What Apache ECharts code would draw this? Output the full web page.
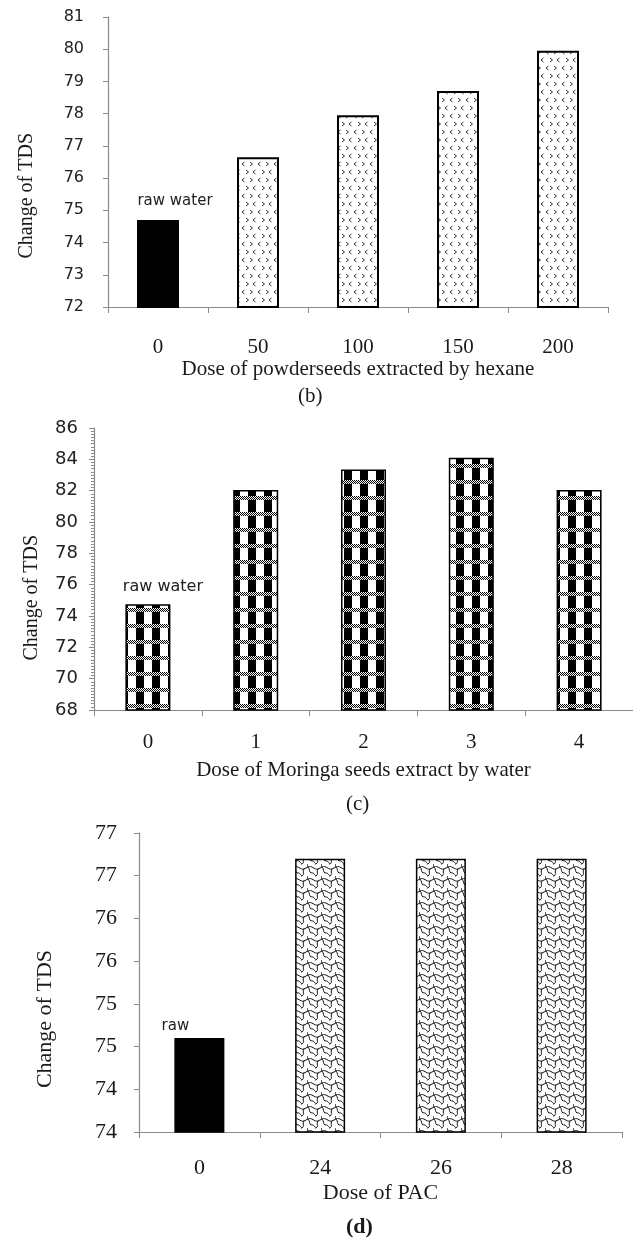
<!DOCTYPE html>
<html>
<head>
<meta charset="utf-8">
<script src="https://cdn.jsdelivr.net/npm/echarts@6/dist/echarts.min.js"></script>
<style>
  html, body { margin: 0; padding: 0; background: #fff; }
  #chart { width: 633px; height: 1240px; }
</style>
</head>
<body>
<div id="chart"></div>
<script>
// data
const catsB = ['0', '50', '100', '150', '200'];
const valsB = [74.7, 76.65, 77.95, 78.7, 79.95];

const catsC = ['0', '1', '2', '3', '4'];
const valsC = [74.75, 82.05, 83.35, 84.1, 82.05];

const catsD = ['0', '24', '26', '28'];
const valsD = [74.6, 76.7, 76.7, 76.7];
const ticksD = ['74', '74', '75', '75', '76', '76', '77', '77'];

const rawLabel = 'raw water';
const rawLabelD = 'raw';

const serif = '"Liberation Serif", "DejaVu Serif", serif';
const sans = '"DejaVu Sans", Verdana, sans-serif';
const axisGray = '#8a8a8a';
const textCol = '#1a1a1a';

// --- fill patterns drawn on little canvases ---
const makeTile = (w, h, draw) => {
    const c = document.createElement('canvas');
    c.width = w; c.height = h;
    const ctx = c.getContext('2d');
    ctx.fillStyle = '#fff';
    ctx.fillRect(0, 0, w, h);
    draw(ctx);
    return c;
};

// (b) small < > marks
const tileB = makeTile(16, 16, (ctx) => {
    ctx.strokeStyle = '#333';
    ctx.lineWidth = 1;
    const lt = (x, y) => { ctx.beginPath(); ctx.moveTo(x + 2.5, y); ctx.lineTo(x, y + 2); ctx.lineTo(x + 2.5, y + 4); ctx.stroke(); };
    const gt = (x, y) => { ctx.beginPath(); ctx.moveTo(x, y); ctx.lineTo(x + 2.5, y + 2); ctx.lineTo(x, y + 4); ctx.stroke(); };
    lt(2, 2); gt(10, 2);
    gt(6, 10); lt(13, 10);
});

// (c) black / white columns with dotted grey bands
const tileC = makeTile(16, 16, (ctx) => {
    ctx.fillStyle = '#000';
    ctx.fillRect(8, 4, 8, 12);
    for (let y = 0; y < 4; y++) {
        for (let x = 0; x < 16; x++) {
            if ((x + y) % 2 === 0) ctx.fillRect(x, y, 1, 1);
        }
    }
});

// (d) wavy scale lines
const tileD = makeTile(14, 12, (ctx) => {
    ctx.strokeStyle = '#111';
    ctx.lineWidth = 1;
    ctx.beginPath();
    ctx.moveTo(0, 3);
    ctx.bezierCurveTo(4, 1, 6, 6, 10, 5);
    ctx.lineTo(14, 3);
    ctx.moveTo(10, 5);
    ctx.bezierCurveTo(8, 8, 11, 10, 8, 12);
    ctx.moveTo(8, 0);
    ctx.lineTo(7, 0);
    ctx.moveTo(3, 9);
    ctx.bezierCurveTo(5, 8, 7, 11, 8, 12);
    ctx.moveTo(3, 9);
    ctx.bezierCurveTo(1, 8, 2, 5, 0, 3);
    ctx.moveTo(14, 3);
    ctx.bezierCurveTo(13, 1, 14, 0, 14, 0);
    ctx.stroke();
});

const pattern = (tile) => ({ image: tile, repeat: 'repeat' });

const rawItem = (v, text, fill, fontSize, offset) => ({
    value: v,
    itemStyle: { color: fill },
    label: {
        show: true, position: 'top', formatter: text,
        fontFamily: sans, fontSize: fontSize, color: '#222', offset: offset
    }
});

const dataB = valsB.map((v, i) => i === 0
    ? rawItem(v, rawLabel, '#000', 15, [17, -6])
    : v);
const dataC = valsC.map((v, i) => i === 0
    ? rawItem(v, rawLabel, pattern(tileC), 16, [15, -4])
    : v);
const dataD = valsD.map((v, i) => i === 0
    ? rawItem(v, rawLabelD, '#000', 15, [-24, 1])
    : v);

const catAxis = (idx, cats, fs, margin, name, nameGap) => ({
    type: 'category', gridIndex: idx, data: cats,
    axisLine: { lineStyle: { color: axisGray, width: 1.2 } },
    axisTick: { show: true, length: 6, lineStyle: { color: axisGray } },
    axisLabel: { fontFamily: serif, fontSize: fs, color: textCol, margin: margin },
    name: name, nameLocation: 'middle', nameGap: nameGap,
    nameTextStyle: { fontFamily: serif, fontSize: fs, color: textCol }
});

const option = {
    backgroundColor: '#fff',
    animation: false,
    grid: [
        { left: 108, top: 17, width: 500, height: 290 },
        { left: 94, top: 428, width: 553, height: 282 },
        { left: 139, top: 833, width: 483, height: 299 }
    ],
    xAxis: [
        catAxis(0, catsB, 21, 30, 'Dose of powderseeds extracted by hexane', 41),
        catAxis(1, catsC, 21, 22, 'Dose of Moringa seeds extract by water', 50),
        catAxis(2, catsD, 22, 25, 'Dose of PAC', 50)
    ],
    yAxis: [
        {
            type: 'value', gridIndex: 0, min: 72, max: 81, interval: 1,
            axisLine: { show: true, lineStyle: { color: axisGray, width: 1.2 } },
            axisTick: { show: true, length: 5, lineStyle: { color: axisGray } },
            splitLine: { show: false },
            axisLabel: { fontFamily: sans, fontSize: 16, color: '#222', margin: 24 }
        },
        {
            type: 'value', gridIndex: 1, min: 68, max: 86, interval: 2,
            axisLine: { show: true, lineStyle: { color: axisGray, width: 1.2 } },
            axisTick: { show: true, length: 5, lineStyle: { color: axisGray } },
            minorTick: { show: true, splitNumber: 10, length: 3, lineStyle: { color: axisGray } },
            splitLine: { show: false },
            axisLabel: { fontFamily: sans, fontSize: 18, color: '#222', margin: 16 }
        },
        {
            type: 'value', gridIndex: 2, min: 73.5, max: 77, interval: 0.5,
            axisLine: { show: true, lineStyle: { color: axisGray, width: 1.2 } },
            axisTick: { show: true, length: 5, lineStyle: { color: axisGray } },
            splitLine: { show: false },
            axisLabel: {
                fontFamily: serif, fontSize: 22, color: textCol, margin: 22,
                formatter: (v, i) => ticksD[i]
            }
        }
    ],
    series: [
        {
            type: 'bar', xAxisIndex: 0, yAxisIndex: 0, data: dataB, barWidth: 42,
            itemStyle: { color: pattern(tileB), borderColor: '#000', borderWidth: 2 }
        },
        {
            type: 'bar', xAxisIndex: 1, yAxisIndex: 1, data: dataC, barWidth: 45,
            itemStyle: { color: pattern(tileC), borderColor: '#000', borderWidth: 1.5 }
        },
        {
            type: 'bar', xAxisIndex: 2, yAxisIndex: 2, data: dataD, barWidth: 50,
            itemStyle: { color: pattern(tileD), borderColor: '#000', borderWidth: 1.5 }
        }
    ],
    graphic: [
        { type: 'text', left: 17, top: 133, rotation: Math.PI / 2,
          style: { text: 'Change of TDS', font: '20px ' + serif, fill: textCol } },
        { type: 'text', left: 22, top: 535, rotation: Math.PI / 2,
          style: { text: 'Change of TDS', font: '20px ' + serif, fill: textCol } },
        { type: 'text', left: 34, top: 950, rotation: Math.PI / 2,
          style: { text: 'Change of TDS', font: '22px ' + serif, fill: textCol } },
        { type: 'text', left: 298, top: 386,
          style: { text: '(b)', font: '21px ' + serif, fill: textCol } },
        { type: 'text', left: 346, top: 794,
          style: { text: '(c)', font: '21px ' + serif, fill: textCol } },
        { type: 'text', left: 346, top: 1216,
          style: { text: '(d)', font: 'bold 22px ' + serif, fill: textCol } }
    ]
};

const chart = echarts.init(document.getElementById('chart'));
chart.setOption(option);
</script>
</body>
</html>
